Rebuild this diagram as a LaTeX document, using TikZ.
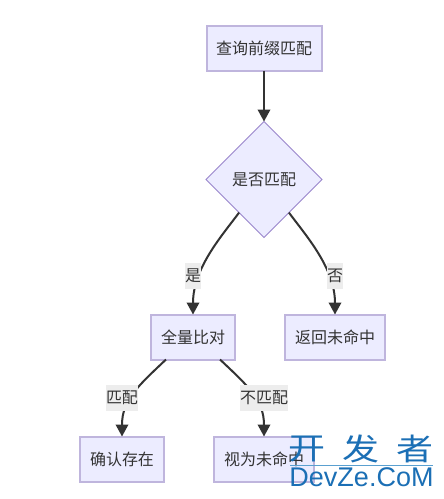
\documentclass[tikz,border=0pt]{standalone}
\usepackage{fontspec}
\setmainfont{Noto Sans CJK SC}
\newfontfamily\cjkfont{Noto Sans CJK SC}
\newfontfamily\latinwm{Liberation Sans}
\usetikzlibrary{arrows.meta,shapes.geometric}
\definecolor{nodefill}{HTML}{ECECFF}
\definecolor{nodeedge}{HTML}{BFB5DD}
\definecolor{diaedge}{HTML}{9A86CC}
\definecolor{inkc}{HTML}{333333}
\definecolor{lblfill}{HTML}{EDEDED}
\definecolor{wmblue}{HTML}{1B6FB5}
\definecolor{wmline}{HTML}{5AA0D0}
\tikzset{
  x=1pt,y=-1pt,
  txt/.style={font=\cjkfont\fontsize{16}{18}\selectfont,text=inkc},
  boxa/.style={txt,draw=nodeedge,fill=nodefill,line width=2pt,minimum height=45pt,inner sep=0pt,outer sep=0pt},
  dia/.style={txt,diamond,aspect=1,draw=diaedge,fill=nodefill,line width=0.9pt,minimum size=116pt,inner sep=0pt,outer sep=0pt},
  conn/.style={draw=inkc,line width=2pt,-{Triangle[length=12pt,width=12.5pt]}},
  lbl/.style={txt,fill=lblfill,inner sep=0pt,minimum height=26pt},
  wm/.style={text=wmblue,inner sep=0pt,outer sep=0pt},
  wmcjk/.style={wm,font=\cjkfont\fontsize{37}{40}\selectfont,anchor=center}
}
\begin{document}
\begin{tikzpicture}
\useasboundingbox[fill=white] (0,0) rectangle (444,499);
\node[boxa,minimum width=115pt] (a) at (264,48) {查询前缀匹配};
\node[dia] (b) at (264,179.5) {是否匹配};
\node[boxa,minimum width=84pt] (c) at (193,337) {全量比对};
\node[boxa,minimum width=100pt] (d) at (335,337) {返回未命中};
\node[boxa,minimum width=84pt] (e) at (122,459) {确认存在};
\node[boxa,minimum width=100pt] (f) at (264,459) {视为未命中};
\draw[conn] (a.south) -- (b.north);
\draw[conn] (b.233) .. controls +(-17,23) and (193,268) .. (c.north);
\draw[conn] (b.307) .. controls +(17,23) and (335,268) .. (d.north);
\draw[conn] (c.south west -| 166,360) .. controls (138,386) and (122,400) .. (e.north);
\draw[conn] (c.south east -| 220,360) .. controls (248,386) and (264,400) .. (f.north);
\node[lbl,minimum width=16pt] (l1) at (193,275.5) {是};
\node[lbl,minimum width=16pt] (l2) at (335,275.5) {否};
\node[lbl,minimum width=32pt] (l3) at (122,398) {匹配};
\node[lbl,minimum width=48pt] (l4) at (264,398) {不匹配};
\node[wmcjk] (w1) at (307,449) {\scalebox{1}[0.82]{开}};
\node[wmcjk] (w2) at (361,449) {\scalebox{1}[0.82]{发}};
\node[wmcjk] (w3) at (415,449) {\scalebox{1}[0.82]{者}};
\draw[wmline,line width=0.6pt] (290,465) -- (433,465);
\node[wm,font=\latinwm\fontsize{27}{30}\selectfont,anchor=center] (w4) at (361.5,477) {DevZe.CoM};
\end{tikzpicture}
\end{document}
